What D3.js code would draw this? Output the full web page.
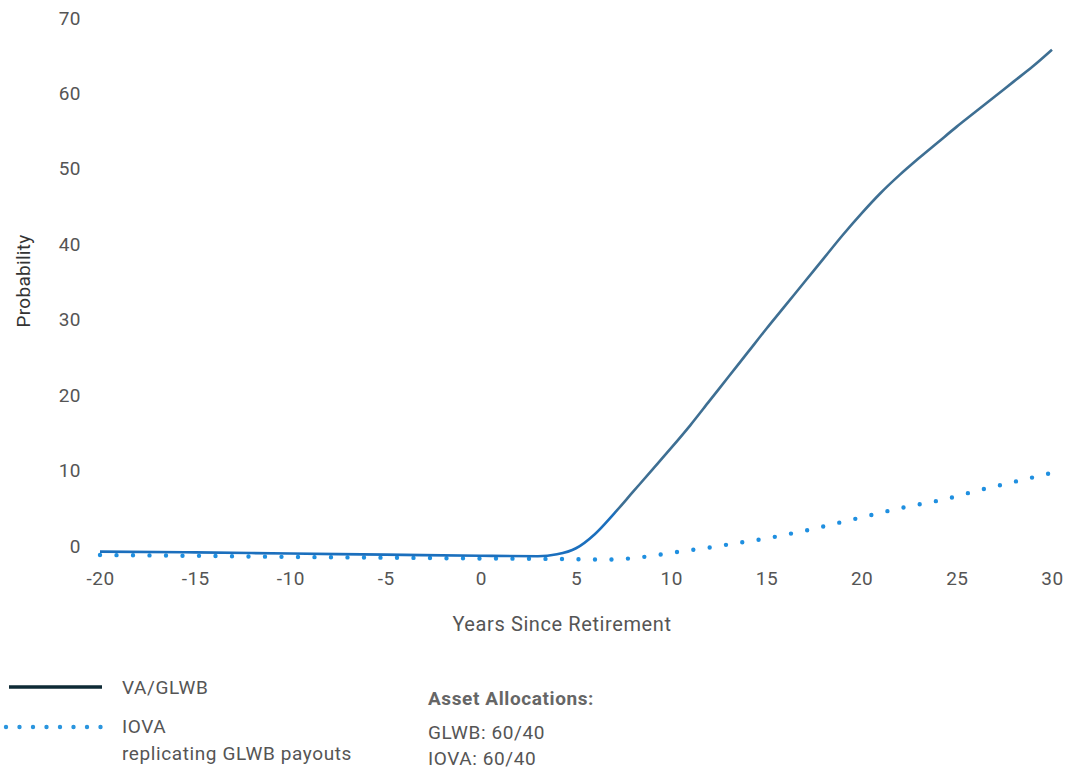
<!DOCTYPE html>
<html><head><meta charset="utf-8">
<script src="https://cdn.jsdelivr.net/npm/d3@7"></script>
<style>
html,body{margin:0;padding:0;background:#fff;}
svg{display:block;font-family:Roboto,"Noto Sans",sans-serif;}
</style></head>
<body><svg id="c" width="1070" height="769"></svg>
<script>
// ---- data ----
const years = [-20,-15,-10,-5,0,3,4,5,6,7,8,9,10,11,12,13,14,15,16,17,18,19,20,21,22,23,24,25,26,27,28,29,30];
const vaGlwb = [-0.75,-0.85,-1.0,-1.15,-1.3,-1.35,-1.1,-0.3,1.6,4.3,7.2,10.1,13.0,16.0,19.2,22.4,25.6,28.8,31.9,35.0,38.1,41.2,44.1,46.8,49.2,51.4,53.5,55.6,57.6,59.6,61.6,63.6,65.8];
const iovaYears = [-20,-15,-10,-5,0,3,5,7,8,9,10,11,12,13,14,15,16,17,18,19,20,21,22,23,24,25,26,27,28,29,30];
const iova = [-1.2,-1.3,-1.45,-1.55,-1.65,-1.7,-1.75,-1.8,-1.6,-1.3,-0.9,-0.55,-0.2,0.2,0.6,1.0,1.5,2.0,2.6,3.2,3.8,4.4,5.0,5.5,6.0,6.6,7.3,7.9,8.5,9.1,9.7];
const xTicks = [-20,-15,-10,-5,0,5,10,15,20,25,30];
const yTicks = [0,10,20,30,40,50,60,70];
const legendLabels = ["VA/GLWB", "IOVA", "replicating GLWB payouts"];
const allocTitle = "Asset Allocations:";
const allocLines = ["GLWB: 60/40", "IOVA: 60/40"];
const xTitle = "Years Since Retirement";
const yTitle = "Probability";

// ---- chart ----
const svg = d3.select("#c");
const x = d3.scaleLinear().domain([-20,30]).range([100,1052]);
const y = d3.scaleLinear().domain([0,70]).range([546,18]);
const txt = "#555";

const defs = svg.append("defs");
const kink = x(7)/1070;
const g = defs.append("linearGradient").attr("id","solidGrad")
  .attr("gradientUnits","userSpaceOnUse").attr("x1",0).attr("x2",1070).attr("y1",0).attr("y2",0);
g.append("stop").attr("offset",0).attr("stop-color","#1b6fbd");
g.append("stop").attr("offset",kink).attr("stop-color","#1b6fbd");
g.append("stop").attr("offset",kink+0.005).attr("stop-color","#3e6f93");
g.append("stop").attr("offset",1).attr("stop-color","#3e6f93");

// axes
const yAxis = svg.append("g").attr("transform","translate(88,0)")
  .call(d3.axisLeft(y).tickValues(yTicks).tickSize(0).tickPadding(7).tickFormat(d=>String(d)));
yAxis.select(".domain").remove();
yAxis.selectAll("text").attr("fill",txt).style("font-size","19px").style("font-family","Roboto").attr("letter-spacing","0.5px");

const xAxis = svg.append("g").attr("transform","translate(0,566)")
  .call(d3.axisBottom(x).tickValues(xTicks).tickSize(0).tickPadding(6).tickFormat(d=>String(d)));
xAxis.select(".domain").remove();
xAxis.selectAll("text").attr("fill",txt).style("font-size","19px").style("font-family","Roboto").attr("letter-spacing","0.5px");

svg.append("text").attr("x",562).attr("y",631).attr("text-anchor","middle")
  .attr("fill",txt).style("font-size","20px").attr("letter-spacing","0.6px").text(xTitle);
svg.append("text").attr("transform","translate(30,281) rotate(-90)").attr("text-anchor","middle")
  .attr("fill","#333").style("font-size","19px").attr("letter-spacing","0.3px").text(yTitle);

// lines
const line = d3.line().x(d=>x(d[0])).y(d=>y(d[1])).curve(d3.curveMonotoneX);
svg.append("path").datum(iovaYears.map((v,i)=>[v,iova[i]]))
  .attr("d",line).attr("fill","none").attr("stroke","#1f8fe0")
  .attr("stroke-width",4.4).attr("stroke-linecap","round").attr("stroke-dasharray","0,16.5");
svg.append("path").datum(years.map((v,i)=>[v,vaGlwb[i]]))
  .attr("d",line).attr("fill","none").attr("stroke","url(#solidGrad)")
  .attr("stroke-width",2.6);

// legend
svg.append("line").attr("x1",9).attr("x2",102).attr("y1",687).attr("y2",687)
  .attr("stroke","#0e2a35").attr("stroke-width",3.5);
svg.append("line").attr("x1",6).attr("x2",101).attr("y1",727).attr("y2",727)
  .attr("stroke","#2a95de").attr("stroke-width",4.4).attr("stroke-linecap","round").attr("stroke-dasharray","0,13.5");
const legY = [694,733,760];
legendLabels.forEach((t,i)=>{
  svg.append("text").attr("x",122).attr("y",legY[i]).attr("fill",txt)
    .style("font-size","19px").attr("letter-spacing","0.6px").text(t);
});
svg.append("text").attr("x",428).attr("y",705).attr("fill","#666")
  .style("font-size","19px").style("font-weight","bold").attr("letter-spacing","0.6px").text(allocTitle);
allocLines.forEach((t,i)=>{
  svg.append("text").attr("x",428).attr("y",739+i*26).attr("fill",txt)
    .style("font-size","19px").attr("letter-spacing","0.6px").text(t);
});
</script></body></html>
